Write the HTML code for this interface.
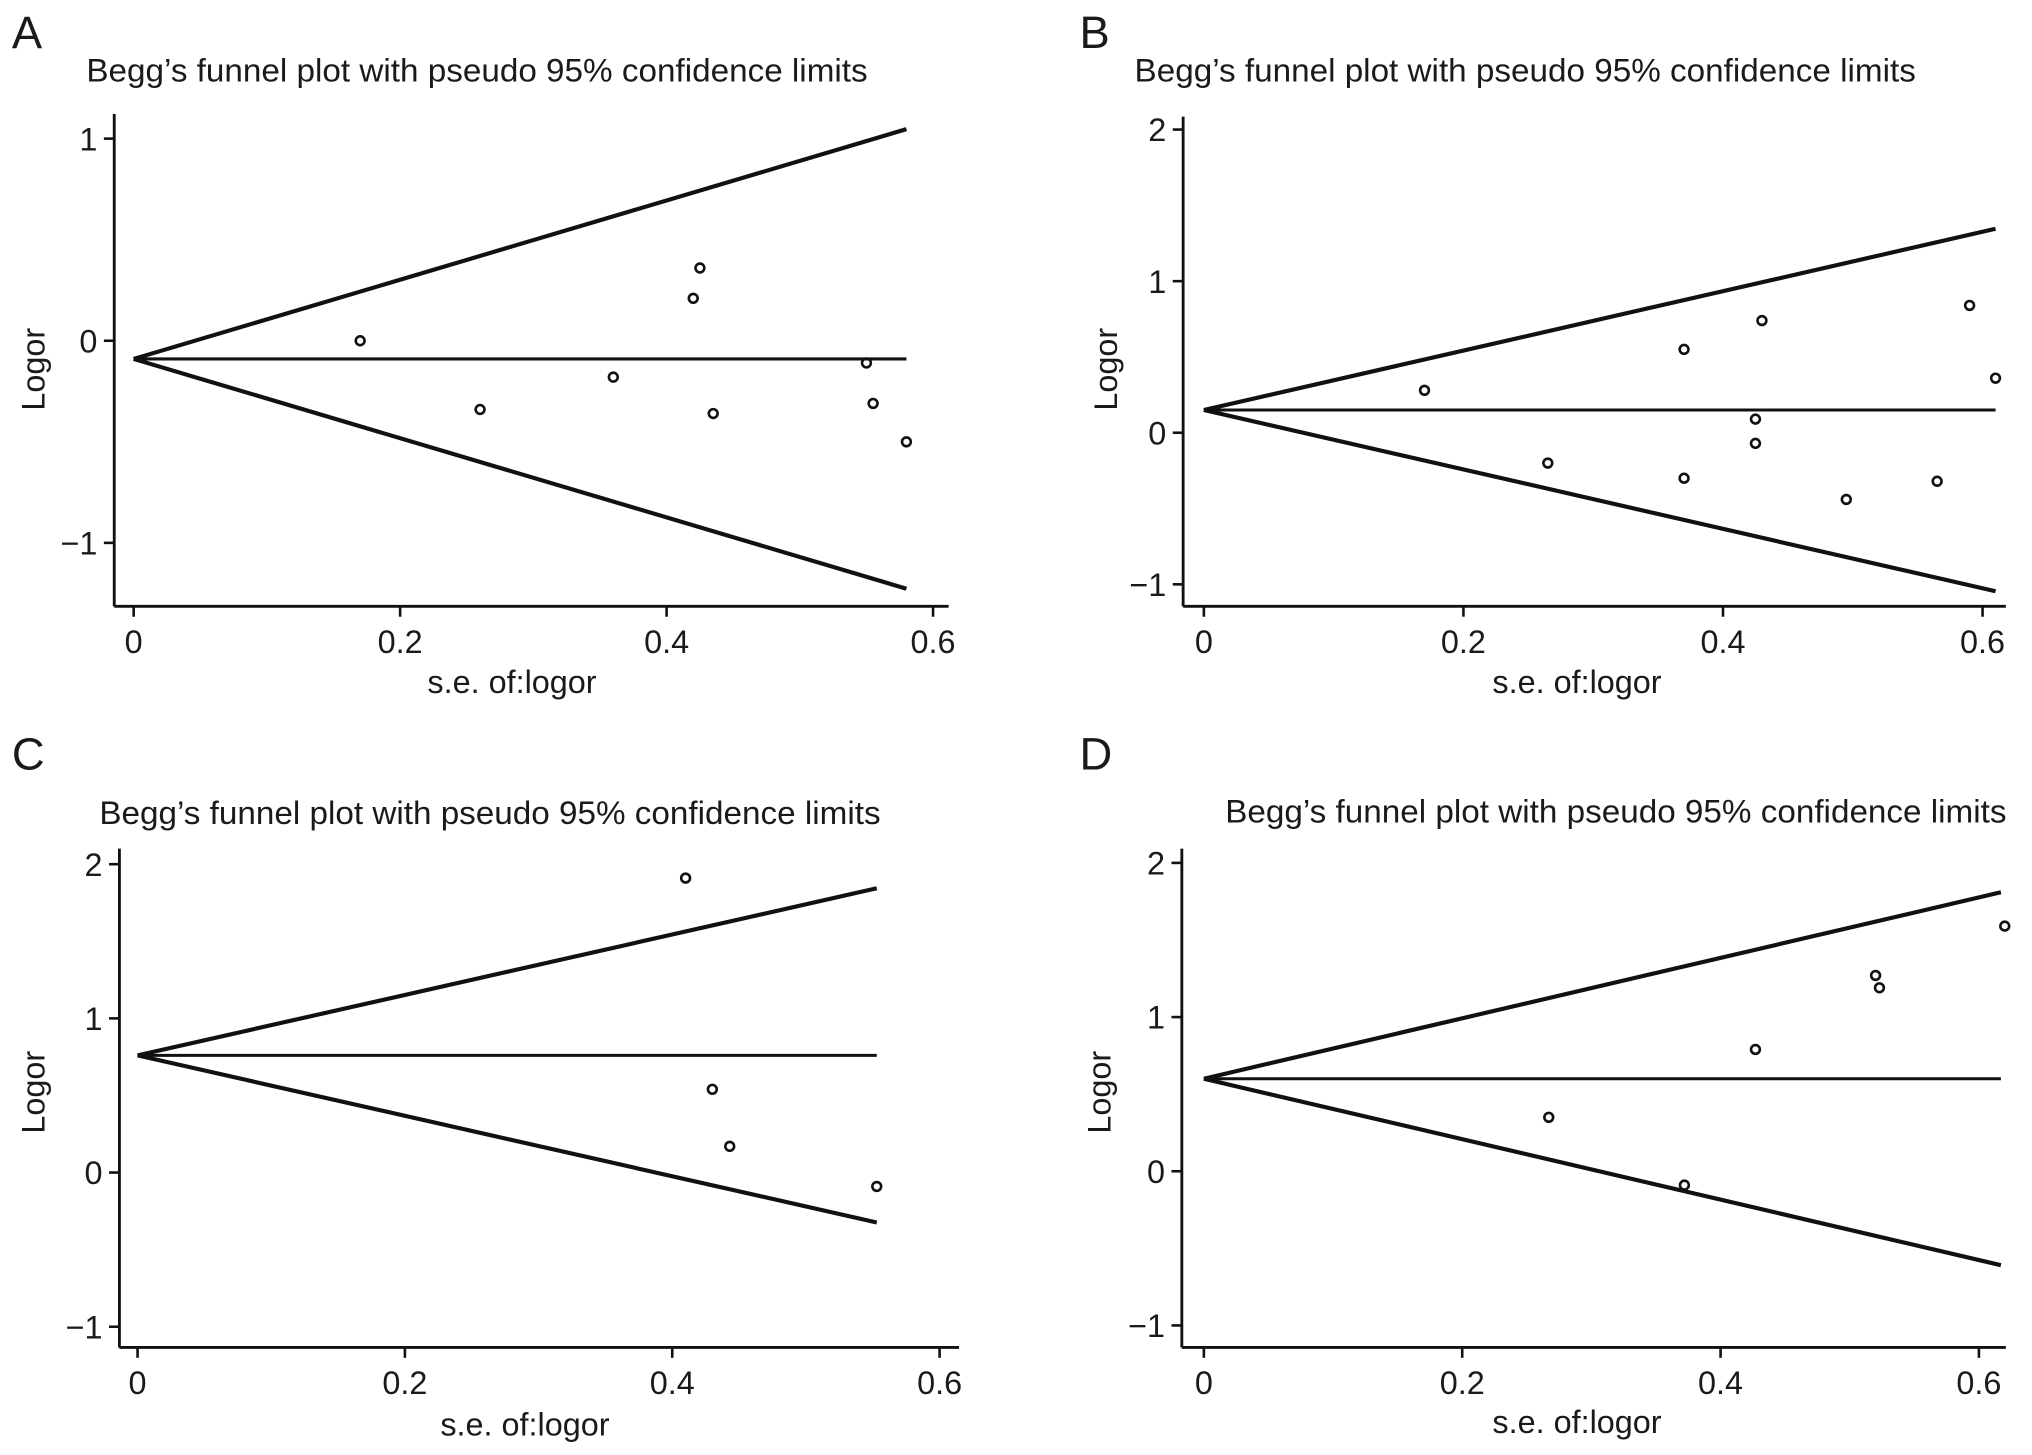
<!DOCTYPE html>
<html><head><meta charset="utf-8"><style>
html,body{margin:0;padding:0;background:#fff}
svg{display:block}
text{font-family:"Liberation Sans",sans-serif;fill:#1a1a1a}
</style></head><body>
<svg id="fig" width="2032" height="1455" viewBox="0 0 1568 1123" xmlns="http://www.w3.org/2000/svg"></svg>
<script>
// Data (se, logor) per panel
const seA = [0.17,0.26,0.36,0.42,0.425,0.435,0.55,0.555,0.58];
const lorA = [0.0,-0.34,-0.18,0.21,0.36,-0.36,-0.11,-0.31,-0.50];
const seB = [0.17,0.265,0.37,0.37,0.425,0.425,0.43,0.495,0.565,0.59,0.61];
const lorB = [0.28,-0.20,0.55,-0.30,0.09,-0.07,0.74,-0.44,-0.32,0.84,0.36];
const seC = [0.41,0.43,0.443,0.553];
const lorC = [1.91,0.54,0.17,-0.09];
const seD = [0.267,0.372,0.427,0.52,0.523,0.62];
const lorD = [0.35,-0.09,0.79,1.27,1.19,1.59];
// pooled estimates and max se
const pooled = [-0.09,0.15,0.76,0.60];
const maxSe = [0.58,0.61,0.553,0.617];
const xTicks = [0,0.2,0.4,0.6];
const yTicksA = [-1,0,1];
const yTicksB = [-1,0,1,2];
const yTicksC = [-1,0,1,2];
const yTicksD = [-1,0,1,2];

const NS="http://www.w3.org/2000/svg";
const svg=document.getElementById('fig');
function mk(tag,attrs,parent){const e=document.createElementNS(NS,tag);for(const k in attrs)e.setAttribute(k,attrs[k]);(parent||svg).appendChild(e);return e;}

const panels=[
 {id:'a',letter:'A',lx:9,ly:37,axX:88,axTop:88,axBottom:468,axRight:732,x0:103,xpu:1028.3,y0:263,ypu:156,title:[368,63],xl:[395,527],yl:[25,285],se:seA,lor:lorA,yt:yTicksA},
 {id:'b',letter:'B',lx:833,ly:37,axX:913,axTop:90,axBottom:468,axRight:1548,x0:929,xpu:1001.7,y0:334,ypu:117,title:[1177,63],xl:[1217,527],yl:[853,285],se:seB,lor:lorB,yt:yTicksB},
 {id:'c',letter:'C',lx:9,ly:594,axX:92,axTop:655,axBottom:1040,axRight:740,x0:106,xpu:1031.7,y0:905,ypu:119,title:[378,636],xl:[405,1100],yl:[25,843],se:seC,lor:lorC,yt:yTicksC},
 {id:'d',letter:'D',lx:833,ly:594,axX:912,axTop:655,axBottom:1040,axRight:1548,x0:929,xpu:997,y0:904,ypu:119,title:[1247,635],xl:[1217,1098],yl:[848,843],se:seD,lor:lorD,yt:yTicksD}
];

panels.forEach((p,i)=>{
 const g=mk('g',{});
 
 
 const X=v=>p.x0+v*p.xpu, Y=v=>p.y0-v*p.ypu;
 const L=mk('text',{x:p.lx,y:p.ly,'font-size':35},g);L.textContent=p.letter;
 
 
 const T=mk('text',{x:p.title[0],y:p.title[1],'font-size':25,'text-anchor':'middle',textLength:603,lengthAdjust:'spacingAndGlyphs'},g);T.textContent="Begg\u2019s funnel plot with pseudo 95% confidence limits";
 
 
 const ya=mk('line',{x1:p.axX,y1:p.axTop,x2:p.axX,y2:p.axBottom,stroke:'#111','stroke-width':2.2},g);
 
 
 const xa=mk('line',{x1:p.axX,y1:p.axBottom,x2:p.axRight,y2:p.axBottom,stroke:'#111','stroke-width':2.2},g);
 
 
 xTicks.forEach(t=>{
  const tk=mk('line',{x1:X(t),y1:p.axBottom,x2:X(t),y2:p.axBottom+8,stroke:'#111','stroke-width':2},g);
  
  
  const tl=mk('text',{x:X(t),y:p.axBottom+36,'font-size':25,'text-anchor':'middle'},g);tl.textContent=String(t);
  
  
 });
 p.yt.forEach(t=>{
  const tk=mk('line',{x1:p.axX-8,y1:Y(t),x2:p.axX,y2:Y(t),stroke:'#111','stroke-width':2},g);
  
  
  const tl=mk('text',{x:p.axX-13,y:Y(t)+9,'font-size':25,'text-anchor':'end'},g);tl.textContent=t<0?'\u2212'+Math.abs(t):String(t);
  
  
 });
 const xl=mk('text',{x:p.xl[0],y:p.xl[1]+8,'font-size':25,'text-anchor':'middle'},g);xl.textContent='s.e. of:logor';
 
 
 const yl=mk('text',{x:p.yl[0]+9,y:p.yl[1],'font-size':25,'text-anchor':'middle',transform:`rotate(-90 ${p.yl[0]+9} ${p.yl[1]})`},g);yl.textContent='Logor';
 
 
 const m=pooled[i], s=maxSe[i];
 const up=mk('line',{x1:X(0),y1:Y(m),x2:X(s),y2:Y(m+1.96*s),stroke:'#111','stroke-width':3.2},g);
 
 
 const lo=mk('line',{x1:X(0),y1:Y(m),x2:X(s),y2:Y(m-1.96*s),stroke:'#111','stroke-width':3.2},g);
 
 
 const pl=mk('line',{x1:X(0),y1:Y(m),x2:X(s),y2:Y(m),stroke:'#111','stroke-width':2.4},g);
 
 
 p.se.forEach((v,k)=>{
  const c=mk('circle',{cx:X(v),cy:Y(p.lor[k]),r:3.4,fill:'none',stroke:'#111','stroke-width':2},g);
  
  
 });
});
</script>
</body></html>
